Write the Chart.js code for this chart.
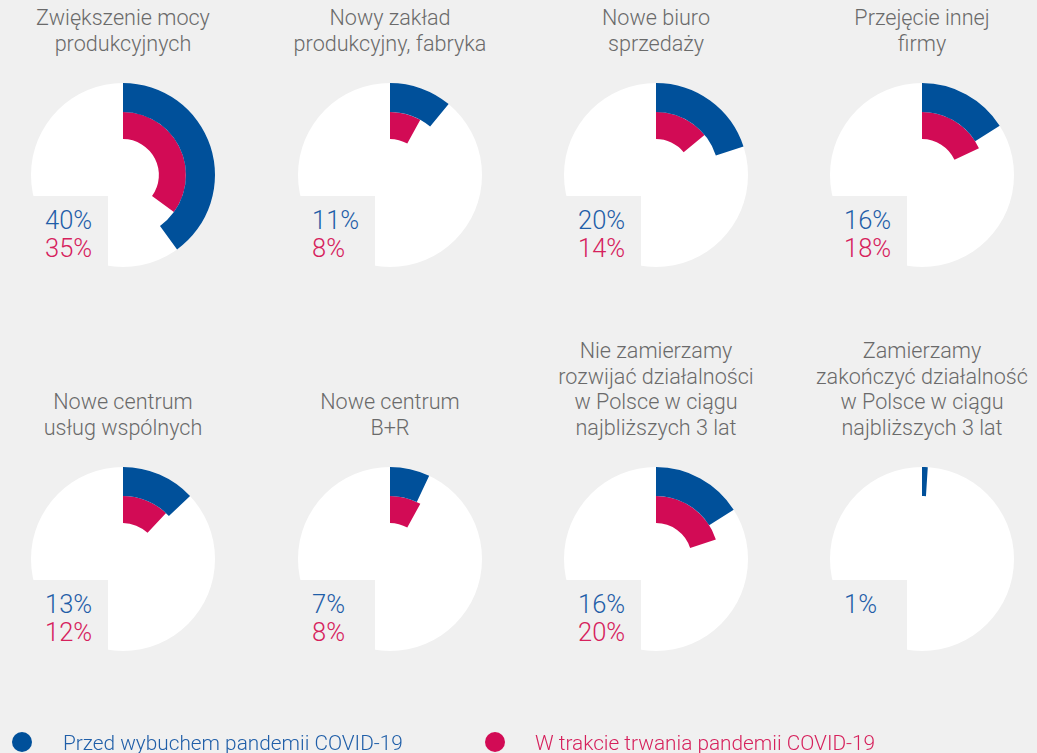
<!DOCTYPE html>
<html>
<head>
<meta charset="utf-8">
<script src="https://cdn.jsdelivr.net/npm/chart.js@4"></script>
<style>
  html, body { margin: 0; padding: 0; background: #f0f0f0; }
  body { width: 1037px; height: 753px; position: relative; overflow: hidden;
         font-family: "Roboto", "Liberation Sans", sans-serif; font-weight: 300; }
  .title { position: absolute; width: 280px; text-align: center; color: #6a6a6a;
           font-size: 21.6px; line-height: 25.5px; }
  .cv { position: absolute; }
  .box { position: absolute; background: #f0f0f0; }
  .pct { position: absolute; font-size: 25.5px; line-height: 28px; white-space: nowrap; }
  .leg { position: absolute; font-size: 20.8px; line-height: 24px; white-space: nowrap; }
  .dot { position: absolute; width: 20px; height: 20px; border-radius: 50%; }
</style>
</head>
<body>
<script>
// ---- data ----
const categories = [
  ["Zwiększenie mocy", "produkcyjnych"],
  ["Nowy zakład", "produkcyjny, fabryka"],
  ["Nowe biuro", "sprzedaży"],
  ["Przejęcie innej", "firmy"],
  ["Nowe centrum", "usług wspólnych"],
  ["Nowe centrum", "B+R"],
  ["Nie zamierzamy", "rozwijać działalności", "w Polsce w ciągu", "najbliższych 3 lat"],
  ["Zamierzamy", "zakończyć działalność", "w Polsce w ciągu", "najbliższych 3 lat"]
];
const beforeCovid = [40, 11, 20, 16, 13, 7, 16, 1];
const duringCovid = [35, 8, 14, 18, 12, 8, 20, null];
const seriesNames = ["Przed wybuchem pandemii COVID-19", "W trakcie trwania pandemii COVID-19"];

// ---- styles / layout ----
const BLUE = "#00509a", PINK = "#d20b55";
const BLUE_TXT = "#1f5ea8", PINK_TXT = "#d6215c";
const colX = [123, 390, 656, 922];
const rowY = [175, 559];
const R = 92;

const whiteDisc = {
  id: "whiteDisc",
  beforeDatasetsDraw(chart) {
    const arc = chart.getDatasetMeta(0).data[0];
    const ctx = chart.ctx;
    ctx.save();
    ctx.fillStyle = "#ffffff";
    ctx.beginPath();
    ctx.arc(arc.x, arc.y, arc.outerRadius, 0, Math.PI * 2);
    ctx.fill();
    ctx.restore();
  }
};

function el(tag, cls, style, text) {
  const e = document.createElement(tag);
  if (cls) e.className = cls;
  Object.assign(e.style, style || {});
  if (text != null) e.textContent = text;
  document.body.appendChild(e);
  return e;
}

categories.forEach((lines, i) => {
  const cx = colX[i % 4], cy = rowY[Math.floor(i / 4)];
  // title (bottom aligned above disc)
  const t = el("div", "title", { left: (cx - 140) + "px", bottom: (753 - (cy - R - 27)) + "px" });
  t.innerHTML = lines.join("<br>");

  const cv = el("canvas", "cv", { left: (cx - R) + "px", top: (cy - R) + "px" });
  cv.width = 2 * R; cv.height = 2 * R;

  const b = beforeCovid[i], d = duringCovid[i];
  new Chart(cv, {
    type: "doughnut",
    data: {
      datasets: [
        { data: [b, 100 - b], backgroundColor: [BLUE, "rgba(0,0,0,0)"], borderWidth: 0, weight: 29 },
        { data: [d || 0, 100 - (d || 0)], backgroundColor: [PINK, "rgba(0,0,0,0)"], borderWidth: 0, weight: 27 }
      ]
    },
    options: {
      responsive: false,
      animation: false,
      cutout: "39%",
      rotation: 0,
      circumference: 360,
      layout: { padding: 0 },
      events: [],
      plugins: { legend: { display: false }, tooltip: { enabled: false } }
    },
    plugins: [whiteDisc]
  });

  // label box cut out of the disc
  el("div", "box", { left: (cx - 105) + "px", top: (cy + 21) + "px", width: "90px", height: "80px" });
  el("div", "pct", { left: (cx - 78) + "px", top: (cy + 30.5) + "px", color: BLUE_TXT }, b + "%");
  if (d != null) el("div", "pct", { left: (cx - 78) + "px", top: (cy + 58.5) + "px", color: PINK_TXT }, d + "%");
});

// legend
el("div", "dot", { left: "12px", top: "732px", background: BLUE });
el("div", "leg", { left: "63px", top: "731px", color: BLUE_TXT }, seriesNames[0]);
el("div", "dot", { left: "485px", top: "732px", background: PINK });
el("div", "leg", { left: "535px", top: "731px", color: PINK_TXT }, seriesNames[1]);
</script>
</body>
</html>
